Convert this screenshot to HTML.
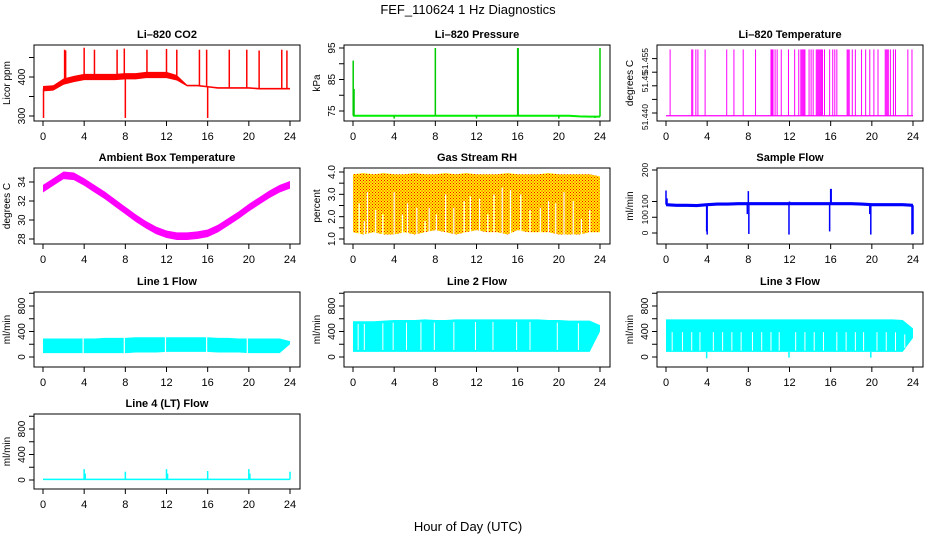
<!DOCTYPE html>
<html><head><meta charset="utf-8"><title>FEF_110624 1 Hz Diagnostics</title>
<style>
html,body{margin:0;padding:0;background:#fff;}
svg{display:block;font-family:"Liberation Sans",Arial,sans-serif;}
</style></head>
<body>
<svg id="chart" width="936" height="540" viewBox="0 0 936 540" xmlns="http://www.w3.org/2000/svg">
<defs>
<pattern id="rhpat" width="3" height="3" patternUnits="userSpaceOnUse">
<rect width="3" height="3" fill="#ffee00"/><rect x="0" y="0" width="1" height="1" fill="#ff0000"/><rect x="1.5" y="1.5" width="1" height="1" fill="#ff0000"/>
</pattern>
</defs>
<text x="468" y="14" text-anchor="middle" font-size="13">FEF_110624  1 Hz Diagnostics</text>
<text x="468" y="531" text-anchor="middle" font-size="13">Hour of Day (UTC)</text>
</svg>
<script>
// ---------- data ----------
const hours=[0,1,2,3,4,5,6,7,8,9,10,11,12,13,14,15,16,17,18,19,20,21,22,23,24];
const xTicks=[0,4,8,12,16,20,24];
const co2Base=[370,372,388,395,400,400,400,400,402,402,405,405,405,398,378,378,375,372,372,372,372,370,370,370,370];
const co2Half=[7,7,8,8,8,8,8,8,8,8,8,8,8,7,2,2,2,2,2,2,2,2,2,2,2];
const co2SpikeT=[0.05,2.1,2.2,4,5,7.2,7.9,8,10.1,12,13,15.2,15.9,16,18.1,19.8,21,23.2,23.7];
const co2SpikeV=[295,470,468,475,470,470,473,295,470,472,470,470,470,295,470,470,468,470,468];
const co2Ticks=[300,350,400,450];
const co2Labels=["300","","400",""];
const presBase=[73.5,73.5,73.5,73.5,73.5,73.5,73.5,73.5,73.5,73.5,73.5,73.5,73.5,73.5,73.5,73.5,73.5,73.5,73.5,73.5,73.5,73.5,73.3,73.2,73.2];
const presSpikeT=[0.02,0.1,4,8,12,16,16.05,20,23.5,24];
const presSpikeV=[91,82,72.6,95,72.6,95,95,72.6,72.8,95];
const presTicks=[75,80,85,90,95];
const presLabels=["75","","85","","95"];
const tempLow=51.4392;
const tempHigh=51.4587;
const tempSpikeT=[0.4,2.5,2.6,2.9,3.1,3.8,5.9,6.6,7.5,8.7,10.2,10.3,10.4,10.6,10.8,11.2,11.9,12.5,12.9,13.1,13.2,13.3,13.4,13.5,13.9,14.1,14.3,14.6,14.7,14.8,14.9,15.0,15.1,15.2,15.4,15.9,16.2,16.4,16.6,17.6,17.7,17.8,18.1,18.4,19.0,19.4,19.8,20.2,20.6,21.3,21.4,21.5,21.6,21.8,22.1,22.3,23.5,23.9];
const tempTicks=[51.440,51.444,51.448,51.452,51.456];
const tempTickLabels=["","","","",""];
const tempLabelVals=[51.4388,51.4492,51.4553];
const tempLabels=["51.440","51.45","51.455"];
const ambMid=[33.3,34.0,34.7,34.6,34.0,33.3,32.6,31.8,31.0,30.2,29.5,28.9,28.5,28.3,28.3,28.4,28.6,29.1,29.8,30.5,31.3,32.0,32.7,33.3,33.7];
const ambHalf=0.4;
const ambTicks=[28,30,32,34];
const ambLabels=["28","30","32","34"];
const rhUpper=[3.9,3.95,3.9,3.95,3.9,3.9,3.95,3.9,3.9,3.95,3.9,3.95,3.9,3.9,3.9,3.95,3.9,3.9,3.9,3.95,3.9,3.9,3.9,3.9,3.8];
const rhLower=[1.3,1.2,1.3,1.2,1.2,1.3,1.2,1.3,1.4,1.3,1.2,1.3,1.4,1.3,1.3,1.2,1.4,1.3,1.3,1.3,1.2,1.2,1.2,1.3,1.3];
const rhGapT=[0.6,1.1,1.4,2.2,2.9,4.0,4.8,5.3,6.2,7.0,7.4,8.1,9.0,9.8,10.8,11.4,12.3,13.1,13.7,14.5,15.3,16.3,17.2,18.2,19.0,19.7,20.5,21.4,22.2,23.0];
const rhGapV=[2.6,1.8,3.1,2.3,2.1,3.1,2.1,2.6,2.4,1.8,2.4,2.1,3.0,2.4,2.7,2.9,2.8,2.1,3.0,3.3,3.2,3.0,2.3,2.4,2.7,2.6,3.1,2.7,1.9,2.3];
const rhTicks=[1.0,1.5,2.0,2.5,3.0,3.5,4.0];
const rhLabels=["1.0","","2.0","","3.0","","4.0"];
const sfBase=[90,88,88,87,90,92,92,93,93,93,93,93,93,93,93,93,93,93,93,92,90,90,90,90,88];
const sfHalf=5;
const sfSpikeT=[0,0.1,3.95,4.0,7.9,8.0,8.05,11.95,12,15.9,16,16.05,19.8,19.9,23.9,24];
const sfSpikeV=[135,110,5,-5,60,133,-3,-5,100,5,140,140,60,-5,-5,-3];
const sfTicks=[0,50,100,200];
const sfLabels=["0","100","100","200"];
const l1Upper=[290,290,290,290,290,290,300,300,300,310,310,310,310,310,310,310,310,300,300,290,290,290,290,290,250];
const l1Lower=[60,60,60,60,60,60,60,60,60,70,70,70,80,80,80,80,80,70,70,70,60,60,60,60,200];
const l1GapT=[3.9,7.9,11.9,15.9,19.85];
const l2Upper=[560,560,560,570,580,580,580,590,580,580,590,590,590,590,590,590,590,590,590,580,580,570,570,570,500];
const l2Lower=[80,80,80,80,80,80,80,80,80,80,80,80,80,80,80,80,80,80,80,80,80,80,80,80,400];
const l2GapT=[0.5,1.1,2.9,3.9,5.2,6.6,7.9,9.8,11.9,13.6,15.9,17.2,19.85,21.9];
const l3Upper=[590,590,590,590,590,590,590,590,590,590,590,590,590,590,590,590,590,590,590,590,590,590,590,580,450];
const l3Lower=[80,80,80,80,80,80,80,80,80,80,80,80,80,80,80,80,80,80,80,80,80,80,80,80,300];
const l3DipT=[3.95,11.95,19.9];
const l3DipV=[-20,-10,-10];
const l3GapT=[0.6,1.6,2.5,3.3,4.6,5.5,6.4,7.3,8.4,9.3,10.2,11.0,12.6,13.5,14.4,15.3,16.6,17.5,18.4,19.2,20.5,21.4,22.3,23.2];
const l4Base=10;
const l4SpikeT=[4,4.1,8,12,12.1,16,20,20.1,24];
const l4SpikeV=[170,100,130,170,100,140,170,100,130];
const flowTicks=[-200,0,200,400,600,800,1000];
const flowLabels=["","0","","400","","800",""];

// ---------- layout ----------
const SVGNS="http://www.w3.org/2000/svg";
const svg=document.getElementById('chart');
const colX=[34,344,657], rowY=[45,168,292,414], BW=266;
const rowH=[76,76,75,75];

function mk(tag,attrs,parent){const e=document.createElementNS(SVGNS,tag);for(const k in attrs)e.setAttribute(k,attrs[k]);(parent||svg).appendChild(e);return e;}

function yLabel(P,key,y,txt,fs){
  const lb=mk('text',{x:0,y:0,'text-anchor':'middle','font-size':fs||10,transform:`translate(${P.bx-9},${y}) rotate(-90)`},P.gg);
  lb.textContent=txt;
  
  
}

function makePanel(key,title,ylab,col,row,v1,p1,v2,p2,ticks,labels,fs){
  const g=mk('g',{});
  
  
  const bx=colX[col], by=rowY[row], bh=rowH[row];
  const xs=t=>bx+9+t*(247/24);
  const ys=v=>by+p1+(v-v1)*(p2-p1)/(v2-v1);
  const P={xs,ys,bx,by,bh,gg:g};
  const box=mk('rect',{x:bx,y:by,width:BW,height:bh,fill:'none',stroke:'#000','stroke-width':1},g);
  
  
  const t=mk('text',{x:bx+BW/2,y:by-7,'text-anchor':'middle','font-size':11,'font-weight':'bold'},g);
  t.textContent=title;
  
  
  const yl=mk('text',{x:0,y:0,'text-anchor':'middle','font-size':10,transform:`translate(${bx-24},${by+bh/2}) rotate(-90)`},g);
  yl.textContent=ylab;
  
  
  xTicks.forEach(h=>{
    const x=xs(h);
    const tk=mk('line',{x1:x,y1:by+bh,x2:x,y2:by+bh+5,stroke:'#000'},g);
    
    
    const lb=mk('text',{x:x,y:by+bh+19,'text-anchor':'middle','font-size':11},g);
    lb.textContent=String(h);
    
    
  });
  ticks.forEach((v,i)=>{
    const y=ys(v);
    if(y<by-1||y>by+bh+1)return;
    const tk=mk('line',{x1:bx-5,y1:y,x2:bx,y2:y,stroke:'#000'},g);
    
    
    if(labels[i]) yLabel(P,key,y,labels[i],fs);
  });
  P.g=mk('g',{},g);
  return P;
}
function band(P,up,lo,fill,name){
  let pts=hours.map((h,i)=>P.xs(h)+','+P.ys(up[i]));
  pts=pts.concat(hours.slice().reverse().map((h,j)=>{const i=hours.length-1-j;return P.xs(h)+','+P.ys(lo[i]);}));
  const e=mk('polygon',{points:pts.join(' '),fill:fill},P.g);
  
  
  return e;
}
function vline(P,t,v0,v1,color,w,name){
  const e=mk('line',{x1:P.xs(t),y1:P.ys(v0),x2:P.xs(t),y2:P.ys(v1),stroke:color,'stroke-width':w},P.g);
  
  
  return e;
}
function pline(P,vals,color,w,name){
  const e=mk('polyline',{points:hours.map((h,i)=>P.xs(h)+','+P.ys(vals[i])).join(' '),fill:'none',stroke:color,'stroke-width':w},P.g);
  
  
  return e;
}
function interp(arr,t){const i=Math.min(23,Math.floor(t));const f=t-i;return arr[i]*(1-f)+arr[i+1]*f;}

// CO2
let P=makePanel('co2','Li\u2013820 CO2','Licor ppm',0,0,300,71,400,32,co2Ticks,co2Labels);
band(P,co2Base.map((v,i)=>v+co2Half[i]),co2Base.map((v,i)=>v-co2Half[i]),'#ff0000','co2-series-band');
co2SpikeT.forEach((t,i)=>vline(P,t,interp(co2Base,t),co2SpikeV[i],'#ff0000',1.5,'co2-spike'));
// Pressure
P=makePanel('pressure','Li\u2013820 Pressure','kPa',1,0,95,3,75,66,presTicks,presLabels);
pline(P,presBase,'#00ee00',2,'pressure-series-line');
presSpikeT.forEach((t,i)=>vline(P,t,interp(presBase,t),presSpikeV[i],'#00cc00',1.5,'pressure-spike'));
// Temperature
P=makePanel('li820-temp','Li\u2013820 Temperature','degrees C',2,0,51.440,68,51.455,17,tempTicks,tempTickLabels);
tempLabelVals.forEach((v,i)=>yLabel(P,'li820-temp',P.ys(v),tempLabels[i],8.5));
pline(P,hours.map(()=>tempLow),'#ff00ff',1.2,'li820-temp-baseline');
tempSpikeT.forEach(t=>vline(P,t,tempLow,tempHigh,'#ff00ff',1,'li820-temp-spike'));
// Ambient
P=makePanel('ambient','Ambient Box Temperature','degrees C',0,1,28,71,34,14,ambTicks,ambLabels);
band(P,ambMid.map(v=>v+ambHalf),ambMid.map(v=>v-ambHalf),'#ff00ff','ambient-series-band');
// RH
P=makePanel('rh','Gas Stream RH','percent',1,1,1.0,71,4.0,4,rhTicks,rhLabels);
band(P,rhUpper,rhLower,'url(#rhpat)','rh-series-band');
rhGapT.forEach((t,i)=>vline(P,t,interp(rhLower,t)-0.05,rhGapV[i],'#ffffff',1.2,'rh-gap'));
// Sample flow
P=makePanel('sample-flow','Sample Flow','ml/min',2,1,0,65,200,2,sfTicks,sfLabels,8.5);
band(P,sfBase.map(v=>v+sfHalf),sfBase.map(v=>v-sfHalf),'#0000ff','sample-flow-band');
sfSpikeT.forEach((t,i)=>vline(P,t,interp(sfBase,t),sfSpikeV[i],'#0000ff',1.5,'sample-flow-spike'));
// Line 1
P=makePanel('line1','Line 1 Flow','ml/min',0,2,0,65,800,14,flowTicks,flowLabels);
band(P,l1Upper,l1Lower,'#00ffff','line1-band');
l1GapT.forEach(t=>vline(P,t,interp(l1Lower,t)-10,interp(l1Upper,t)+10,'#ffffff',1.2,'line1-gap'));
// Line 2
P=makePanel('line2','Line 2 Flow','ml/min',1,2,0,65,800,14,flowTicks,flowLabels);
band(P,l2Upper,l2Lower,'#00ffff','line2-band');
l2GapT.forEach(t=>vline(P,t,interp(l2Lower,t)+30,interp(l2Upper,t)-40,'#ffffff',1,'line2-gap'));
// Line 3
P=makePanel('line3','Line 3 Flow','ml/min',2,2,0,65,800,14,flowTicks,flowLabels);
band(P,l3Upper,l3Lower,'#00ffff','line3-band');
l3GapT.forEach(t=>vline(P,t,interp(l3Lower,t)+20,interp(l3Upper,t)-200,'#ffffff',1,'line3-gap'));
l3DipT.forEach((t,i)=>vline(P,t,interp(l3Lower,t),l3DipV[i],'#00ffff',1.5,'line3-dip'));
// Line 4
P=makePanel('line4','Line 4 (LT) Flow','ml/min',0,3,0,66,800,15,flowTicks,flowLabels);
band(P,hours.map(()=>l4Base+12),hours.map(()=>l4Base-12),'#00ffff','line4-band');
l4SpikeT.forEach((t,i)=>vline(P,t,l4Base,l4SpikeV[i],'#00ffff',1.5,'line4-spike'));
</script>
</body></html>
